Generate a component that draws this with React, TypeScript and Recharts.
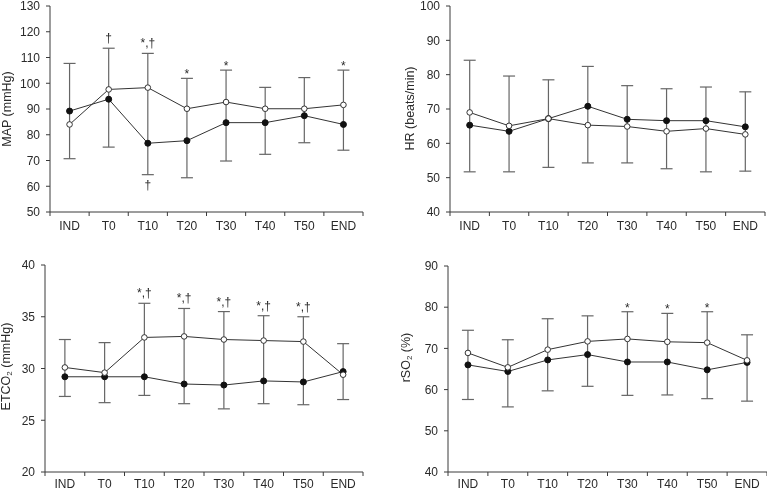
import React from 'react';
import { LineChart, Line, XAxis, YAxis, ErrorBar, LabelList } from 'recharts';

const categories = ['IND', 'T0', 'T10', 'T20', 'T30', 'T40', 'T50', 'END'];

// MAP (mmHg)
const mapFilled = [89.2, 93.8, 76.7, 77.7, 84.7, 84.7, 87.4, 84.0];
const mapOpen = [84.0, 97.6, 98.3, 90.1, 92.7, 90.1, 90.1, 91.6];
const mapHigh = [107.7, 113.6, 111.6, 101.9, 105.1, 98.4, 102.2, 105.1];
const mapLow = [70.7, 75.2, 64.5, 63.3, 69.8, 72.4, 76.9, 74.0];
const mapTopNotes = ['', '†', '*,†', '*', '*', '', '', '*'];
const mapBottomNotes = ['', '', '†', '', '', '', '', ''];
const mapTicks = [50, 60, 70, 80, 90, 100, 110, 120, 130];

// HR (beats/min)
const hrFilled = [65.3, 63.5, 67.2, 70.8, 67.0, 66.6, 66.6, 64.8];
const hrOpen = [69.0, 65.1, 67.2, 65.3, 64.9, 63.5, 64.3, 62.6];
const hrHigh = [84.2, 79.6, 78.5, 82.4, 76.8, 75.9, 76.4, 75.0];
const hrLow = [51.7, 51.7, 53.0, 54.3, 54.3, 52.6, 51.7, 51.9];
const hrTopNotes = ['', '', '', '', '', '', '', ''];
const hrBottomNotes = ['', '', '', '', '', '', '', ''];
const hrTicks = [40, 50, 60, 70, 80, 90, 100];

// ETCO2 (mmHg)
const etFilled = [29.2, 29.2, 29.2, 28.5, 28.4, 28.8, 28.7, 29.7];
const etOpen = [30.1, 29.6, 33.0, 33.1, 32.8, 32.7, 32.6, 29.4];
const etHigh = [32.8, 32.5, 36.3, 35.8, 35.5, 35.1, 35.0, 32.4];
const etLow = [27.3, 26.7, 27.4, 26.6, 26.1, 26.6, 26.5, 27.0];
const etTopNotes = ['', '', '*,†', '*,†', '*,†', '*,†', '*,†', ''];
const etBottomNotes = ['', '', '', '', '', '', '', ''];
const etTicks = [20, 25, 30, 35, 40];

// rSO2 (%)
const rsFilled = [66.0, 64.4, 67.2, 68.5, 66.7, 66.7, 64.8, 66.6];
const rsOpen = [68.9, 65.4, 69.7, 71.7, 72.3, 71.6, 71.4, 67.1];
const rsHigh = [74.4, 72.1, 77.2, 77.9, 78.9, 78.5, 78.9, 73.3];
const rsLow = [57.6, 55.8, 59.7, 60.8, 58.6, 58.7, 57.8, 57.2];
const rsTopNotes = ['', '', '', '', '*', '*', '*', ''];
const rsBottomNotes = ['', '', '', '', '', '', '', ''];
const rsTicks = [40, 50, 60, 70, 80, 90];

const FONT = '"Liberation Sans", Arial, Helvetica, sans-serif';
const TEXT = '#2a2a2a';
const AXIS = '#3a3a3a';
const LINE = '#333';
const BAR = '#666';

function buildRows(filled: number[], open: number[], low: number[], high: number[], top: string[], bottom: string[]) {
  return categories.map((c, i) => ({
    cat: c,
    filled: filled[i],
    open: open[i],
    low: low[i],
    high: high[i],
    err: [filled[i] - low[i], high[i] - filled[i]],
    topNote: top[i],
    bottomNote: bottom[i],
  }));
}

function makeXTick(bw: number, textDy: number) {
  return (props: any) => {
    const { x, y, payload } = props;
    const i = categories.indexOf(payload.value);
    const left = x - bw / 2;
    const right = x + bw / 2;
    return (
      <g>
        <line x1={left} x2={left} y1={y} y2={y + 4} stroke={AXIS} strokeWidth={1} />
        {i === categories.length - 1 ? (
          <line x1={right} x2={right} y1={y} y2={y + 4} stroke={AXIS} strokeWidth={1} />
        ) : null}
        <text x={x} y={y + textDy} textAnchor="middle" fontSize={12} fill={TEXT} fontFamily={FONT}>
          {payload.value}
        </text>
      </g>
    );
  };
}

const topNoteContent = (props: any) => {
  const { x, y, value } = props;
  if (!value) return null;
  const dy = String(value).includes('†') ? -6 : 0;
  return (
    <text x={x} y={y + dy} textAnchor="middle" fontSize={12} fill={TEXT} fontFamily={FONT}>
      {value}
    </text>
  );
};

const bottomNoteContent = (props: any) => {
  const { x, y, value } = props;
  if (!value) return null;
  return (
    <text x={x} y={y + 14} textAnchor="middle" fontSize={12} fill={TEXT} fontFamily={FONT}>
      {value}
    </text>
  );
};

type PanelProps = {
  rows: any[];
  domain: [number, number];
  ticks: number[];
  label: React.ReactNode;
  left: number;
  top: number;
  width: number;
  height: number;
  yW: number;
  mTop: number;
  mRight: number;
  xH: number;
  xTextDy: number;
  labelX: number;
  labelY: number;
};

function Panel(p: PanelProps) {
  const plotW = p.width - p.yW - p.mRight;
  const bw = plotW / categories.length;
  const yLabel = () => (
    <text
      x={p.labelX}
      y={p.labelY}
      transform={`rotate(-90 ${p.labelX} ${p.labelY})`}
      textAnchor="middle"
      dominantBaseline="central"
      fontSize={12.5}
      fill={TEXT}
      fontFamily={FONT}
    >
      {p.label}
    </text>
  );
  return (
    <div style={{ position: 'absolute', left: p.left, top: p.top, width: p.width, height: p.height }}>
      <LineChart
        width={p.width}
        height={p.height}
        data={p.rows}
        margin={{ top: p.mTop, right: p.mRight, bottom: 0, left: 0 }}
      >
        <XAxis
          dataKey="cat"
          scale="band"
          height={p.xH}
          axisLine={{ stroke: AXIS, strokeWidth: 1 }}
          tickLine={false}
          tickSize={0}
          tickMargin={0}
          interval={0}
          tick={makeXTick(bw, p.xTextDy)}
        />
        <YAxis
          type="number"
          domain={p.domain}
          ticks={p.ticks}
          interval={0}
          allowDataOverflow
          width={p.yW}
          axisLine={{ stroke: AXIS, strokeWidth: 1 }}
          tickLine={{ stroke: AXIS, strokeWidth: 1 }}
          tickSize={4}
          tickMargin={6}
          tick={{ fontSize: 12, fill: TEXT, fontFamily: FONT }}
          label={{ content: yLabel }}
        />
        <Line
          dataKey="filled"
          stroke="none"
          dot={false}
          activeDot={false}
          isAnimationActive={false}
          legendType="none"
        >
          <ErrorBar dataKey="err" width={6} stroke={BAR} strokeWidth={1.2} direction="y" />
        </Line>
        <Line dataKey="high" stroke="none" dot={false} activeDot={false} isAnimationActive={false} legendType="none">
          <LabelList dataKey="topNote" content={topNoteContent} />
        </Line>
        <Line dataKey="low" stroke="none" dot={false} activeDot={false} isAnimationActive={false} legendType="none">
          <LabelList dataKey="bottomNote" content={bottomNoteContent} />
        </Line>
        <Line
          dataKey="filled"
          stroke={LINE}
          strokeWidth={1}
          dot={{ r: 3, fill: '#111', stroke: '#111', strokeWidth: 1 }}
          activeDot={false}
          isAnimationActive={false}
        />
        <Line
          dataKey="open"
          stroke={LINE}
          strokeWidth={1}
          dot={{ r: 2.8, fill: '#fff', stroke: '#333', strokeWidth: 1 }}
          activeDot={false}
          isAnimationActive={false}
        />
      </LineChart>
    </div>
  );
}

export default function App() {
  const mapRows = buildRows(mapFilled, mapOpen, mapLow, mapHigh, mapTopNotes, mapBottomNotes);
  const hrRows = buildRows(hrFilled, hrOpen, hrLow, hrHigh, hrTopNotes, hrBottomNotes);
  const etRows = buildRows(etFilled, etOpen, etLow, etHigh, etTopNotes, etBottomNotes);
  const rsRows = buildRows(rsFilled, rsOpen, rsLow, rsHigh, rsTopNotes, rsBottomNotes);
  return (
    <div
      style={{
        position: 'absolute',
        left: 0,
        top: 0,
        width: 767,
        height: 491,
        background: '#fff',
        overflow: 'hidden',
        filter: 'grayscale(1)',
      }}
    >
      <Panel
        rows={mapRows}
        domain={[50, 130]}
        ticks={mapTicks}
        label="MAP (mmHg)"
        left={0}
        top={0}
        width={380}
        height={245}
        yW={50}
        mTop={6}
        mRight={17}
        xH={33}
        xTextDy={18}
        labelX={7}
        labelY={109}
      />
      <Panel
        rows={hrRows}
        domain={[40, 100]}
        ticks={hrTicks}
        label="HR (beats/min)"
        left={380}
        top={0}
        width={387}
        height={245}
        yW={70}
        mTop={6}
        mRight={2}
        xH={33}
        xTextDy={18}
        labelX={30}
        labelY={108.5}
      />
      <Panel
        rows={etRows}
        domain={[20, 40]}
        ticks={etTicks}
        label={
          <>
            <tspan>ETCO</tspan>
            <tspan fontSize={8} dy={3}>2</tspan>
            <tspan dy={-3}> (mmHg)</tspan>
          </>
        }
        left={0}
        top={245}
        width={380}
        height={246}
        yW={45}
        mTop={20}
        mRight={17}
        xH={19}
        xTextDy={16}
        labelX={6}
        labelY={121.5}
      />
      <Panel
        rows={rsRows}
        domain={[40, 90]}
        ticks={rsTicks}
        label={
          <>
            <tspan>rSO</tspan>
            <tspan fontSize={8} dy={3}>2</tspan>
            <tspan dy={-3}> (%)</tspan>
          </>
        }
        left={380}
        top={245}
        width={387}
        height={246}
        yW={68}
        mTop={21}
        mRight={0}
        xH={19}
        xTextDy={16}
        labelX={26}
        labelY={112.5}
      />
    </div>
  );
}
